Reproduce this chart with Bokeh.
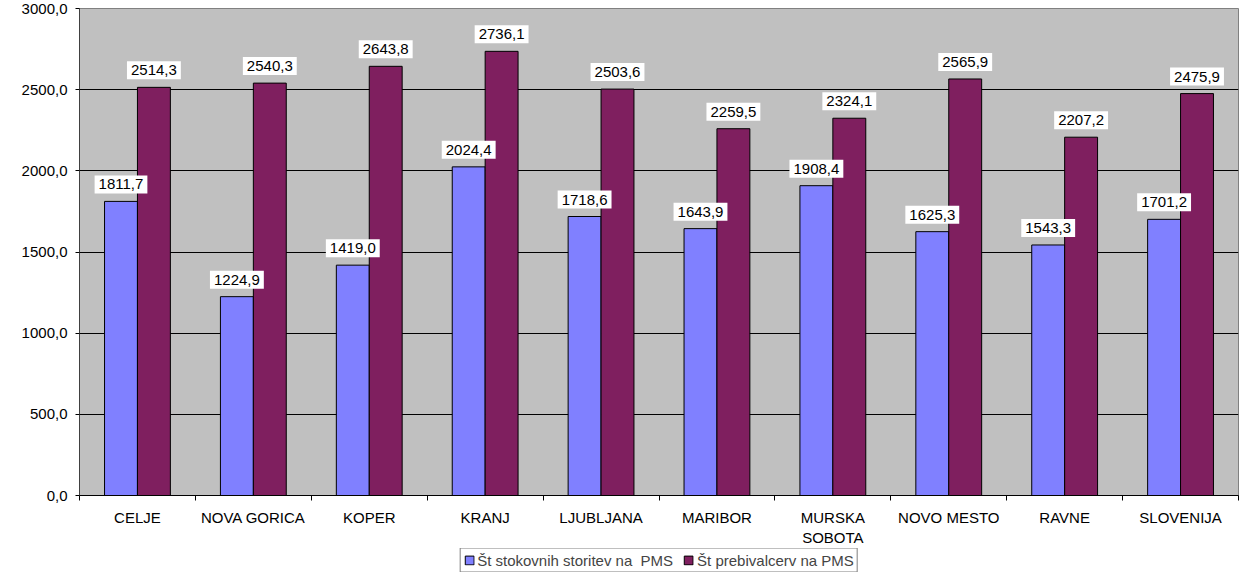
from bokeh.plotting import figure
from bokeh.layouts import column
from bokeh.models import (ColumnDataSource, Legend, LegendItem,
                          FixedTicker, LinearAxis, Range1d)
from bokeh.core.properties import value
from bokeh.embed import file_html
from bokeh.resources import INLINE

categories = ["CELJE", "NOVA GORICA", "KOPER", "KRANJ", "LJUBLJANA", "MARIBOR",
              "MURSKA\nSOBOTA", "NOVO MESTO", "RAVNE", "SLOVENIJA"]
storitve = [1811.7, 1224.9, 1419.0, 2024.4, 1718.6, 1643.9, 1908.4, 1625.3, 1543.3, 1701.2]
prebivalci = [2514.3, 2540.3, 2643.8, 2736.1, 2503.6, 2259.5, 2324.1, 2565.9, 2207.2, 2475.9]
series_names = ["Št stokovnih storitev na  PMS", "Št prebivalcerv na PMS"]
y_ticks = [0, 500, 1000, 1500, 2000, 2500, 3000]

FONT = "Liberation Sans"
BLUE = "#8080FF"
PURPLE = "#7F1F5F"

def fmt(v):
    return f"{v:.1f}".replace(".", ",")

n = len(categories)
bw = 0.284
centers = [i + 0.5 for i in range(n)]
src = ColumnDataSource(dict(
    xs=[c - bw / 2 for c in centers], xp=[c + bw / 2 for c in centers],
    s=storitve, p=prebivalci,
    s_lbl=[fmt(v) for v in storitve],
    p_lbl=[fmt(v) for v in prebivalci],
))

p = figure(width=1239, height=548, x_range=Range1d(0, n),
           y_range=Range1d(0, 3000), output_backend="svg", toolbar_location=None,
           x_axis_location=None,
           min_border_left=62, min_border_top=8, min_border_right=1, min_border_bottom=0,
           background_fill_color="#C0C0C0", border_fill_color="white")
p.outline_line_color = "#808080"
p.outline_line_width = 1

r1 = p.vbar(x="xs", top="s", width=bw, source=src,
            fill_color=BLUE, line_color="black", line_width=1)
r2 = p.vbar(x="xp", top="p", width=bw, source=src,
            fill_color=PURPLE, line_color="black", line_width=1)

for xcol, col, lbl in (("xs", "s", "s_lbl"), ("xp", "p", "p_lbl")):
    p.text(x=xcol, y=col, text=lbl, source=src,
           text_align="center", text_baseline="bottom", y_offset=-8,
           text_font=value(FONT), text_font_size="15px", text_color="black",
           background_fill_color="white", padding=4)

# y axis
p.yaxis.ticker = FixedTicker(ticks=y_ticks)
p.yaxis.major_label_overrides = {t: fmt(float(t)) for t in y_ticks}
p.yaxis.major_label_text_font = FONT
p.yaxis.major_label_text_font_size = "15px"
p.yaxis.major_label_text_color = "black"
p.yaxis.major_tick_out = 4
p.yaxis.major_tick_in = 0
p.yaxis.minor_tick_line_color = None
p.yaxis.major_label_standoff = 8
p.yaxis.axis_line_color = "#404040"

p.ygrid.ticker = FixedTicker(ticks=y_ticks)
p.ygrid.grid_line_color = "black"
p.ygrid.grid_line_width = 1
p.xgrid.grid_line_color = None

# category axis: labels at centers, minor ticks at category boundaries
cat_axis = LinearAxis(ticker=FixedTicker(ticks=centers, minor_ticks=list(range(n + 1))),
                      major_label_overrides={c: name for c, name in zip(centers, categories)},
                      axis_line_color="black", major_tick_line_color=None,
                      major_tick_out=0, major_tick_in=0,
                      minor_tick_line_color="black", minor_tick_out=5, minor_tick_in=0,
                      major_label_text_font=FONT, major_label_text_font_size="15px",
                      major_label_text_color="black", major_label_standoff=8)
p.add_layout(cat_axis, "below")

# legend strip (hidden copies of the series supply the legend swatches)
p2 = figure(width=1239, height=24, x_range=Range1d(0, n), y_range=Range1d(0, 3000),
            output_backend="svg", toolbar_location=None,
            x_axis_location=None, y_axis_location=None,
            min_border_left=79, min_border_right=0, min_border_top=0, min_border_bottom=0,
            background_fill_color="white", border_fill_color="white")
p2.outline_line_color = None
p2.xgrid.grid_line_color = None
p2.ygrid.grid_line_color = None
e1 = p2.vbar(x="xs", top="s", width=bw, source=src, fill_color=BLUE,
             line_color="black", line_width=1, visible=False)
e2 = p2.vbar(x="xp", top="p", width=bw, source=src, fill_color=PURPLE,
             line_color="black", line_width=1, visible=False)

legend = Legend(items=[LegendItem(label=series_names[0], renderers=[e1]),
                       LegendItem(label=series_names[1], renderers=[e2])],
                orientation="horizontal", location="center",
                label_text_font=FONT, label_text_font_size="15px",
                glyph_width=11, glyph_height=11, label_standoff=3, spacing=10,
                border_line_color="black", border_line_width=1,
                inactive_fill_alpha=0,
                padding=3, margin=0, label_height=16)
p2.add_layout(legend)

layout = column(p, p2, spacing=0)
open("out.html", "w").write(file_html(layout, INLINE))
